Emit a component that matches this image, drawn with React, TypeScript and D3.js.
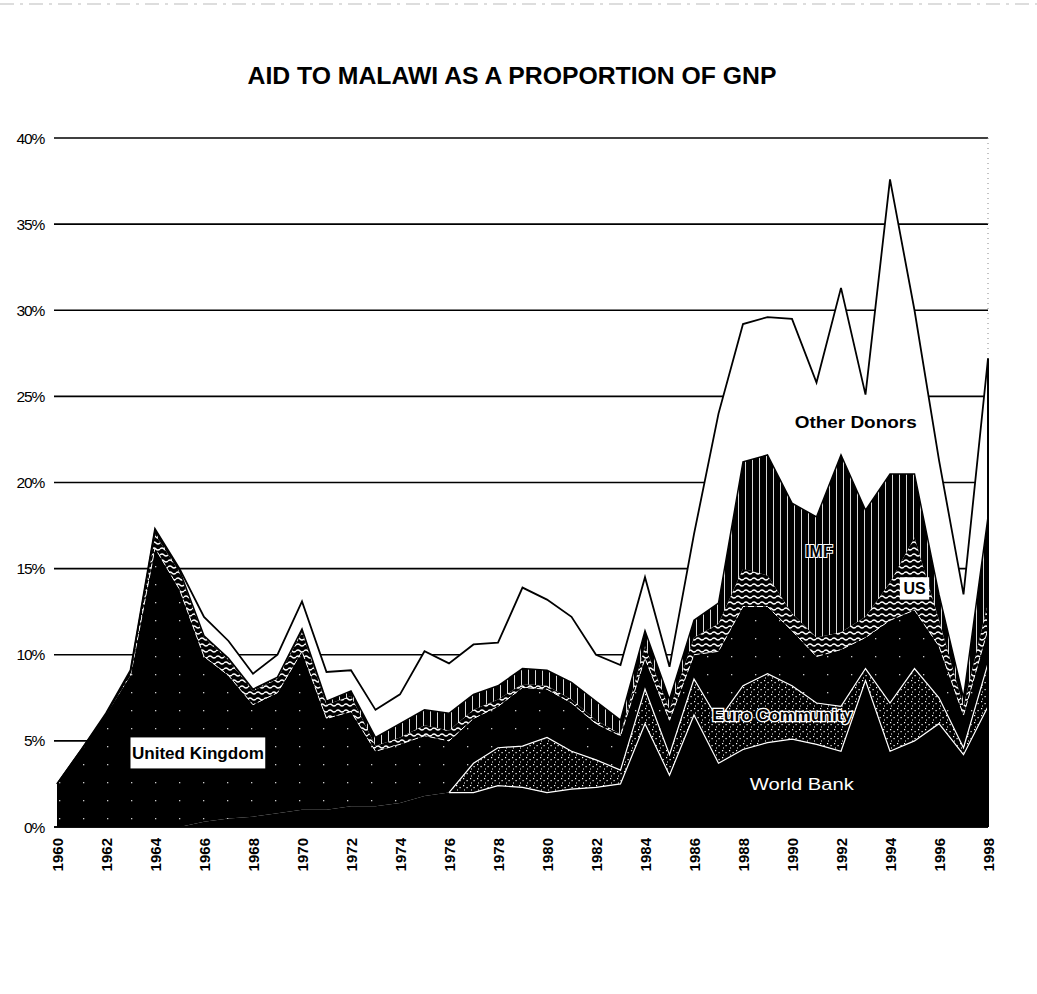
import React from "react";
import * as d3 from "d3";

// ---- data (percent of GNP) ----
const years = [1960,1961,1962,1963,1964,1965,1966,1967,1968,1969,1970,1971,1972,1973,1974,1975,1976,1977,1978,1979,1980,1981,1982,1983,1984,1985,1986,1987,1988,1989,1990,1991,1992,1993,1994,1995,1996,1997,1998];
const worldBank   = [0,0,0,0,0,0,0.3,0.5,0.6,0.8,1.0,1.0,1.2,1.2,1.4,1.8,2.0,2.0,2.4,2.3,2.0,2.2,2.3,2.5,6.0,3.0,6.5,3.7,4.5,4.9,5.1,4.8,4.4,8.5,4.4,5.0,6.0,4.2,7.0];
const euroCommunity = [0,0,0,0,0,0,0,0,0,0,0,0,0,0,0,0,0,1.7,2.2,2.4,3.2,2.2,1.6,0.8,2.0,1.2,2.1,2.5,3.7,4.0,3.1,2.4,2.6,0.7,2.8,4.2,1.5,0.4,2.5];
const unitedKingdom = [2.5,4.5,6.5,8.8,16.2,13.8,9.6,8.3,6.5,7.0,9.2,5.3,5.5,3.2,3.4,3.5,3.0,2.6,2.4,3.4,2.8,2.8,2.1,2.0,1.8,2.0,1.4,4.0,4.6,3.9,3.2,2.7,3.3,1.8,4.8,3.4,3.0,1.9,2.0];
const us          = [0,0,0,0.2,0.8,1.0,1.1,0.9,0.8,0.8,1.1,0.8,0.9,0.3,0.4,0.6,0.6,0.5,0.4,0.2,0.2,0.2,0.2,0.1,0.7,0.6,1.0,1.6,2.2,1.8,1.0,1.1,1.0,1.2,2.2,4.2,1.5,0.5,1.5];
const imf         = [0,0,0,0,0.2,0.1,0.1,0.1,0.1,0.1,0.2,0.2,0.3,0.5,0.8,0.9,1.0,0.9,0.8,0.9,0.9,1.0,1.1,0.8,0.9,0.6,1.0,1.2,6.2,7.0,6.4,7.0,10.3,6.2,6.3,3.7,1.5,0.5,5.0];
const otherDonors = [0,0,0.1,0.1,0.1,0.1,1.1,1.0,0.9,1.3,1.6,1.7,1.2,1.6,1.7,3.4,2.9,2.9,2.5,4.7,4.1,3.8,2.7,3.2,3.1,1.9,5.0,11.0,8.0,8.0,10.7,7.8,9.7,6.7,17.1,9.5,7.8,6.0,9.2];

const seriesKeys = ["World Bank", "Euro Community", "United Kingdom", "US", "IMF", "Other Donors"];
const yTicks = [0, 5, 10, 15, 20, 25, 30, 35, 40];
const xTickYears = [1960,1962,1964,1966,1968,1970,1972,1974,1976,1978,1980,1982,1984,1986,1988,1990,1992,1994,1996,1998];

const title = "AID TO MALAWI AS A PROPORTION OF GNP";

const W = 1037, H = 994;
const FONT = "'Liberation Sans', Arial, Helvetica, sans-serif";

export default function App() {
  const rows = years.map((yr, i) => ({
    year: yr,
    "World Bank": worldBank[i],
    "Euro Community": euroCommunity[i],
    "United Kingdom": unitedKingdom[i],
    "US": us[i],
    "IMF": imf[i],
    "Other Donors": otherDonors[i],
  }));

  const x = d3.scaleLinear().domain([1960, 1998]).range([57, 988]);
  const y = d3.scaleLinear().domain([0, 40]).range([827, 138]);

  const stacked = d3.stack<any>().keys(seriesKeys)(rows);
  const byKey: Record<string, any> = {};
  stacked.forEach((s) => (byKey[s.key] = s));

  const area = d3
    .area<any>()
    .x((d) => x(d.data.year))
    .y0((d) => y(d[0]))
    .y1((d) => y(d[1]));

  const topLine = d3
    .line<any>()
    .x((d) => x(d.data.year))
    .y((d) => y(d[1]));
  const ecTop = d3
    .line<any>()
    .defined((d) => d.data.year >= 1976)
    .x((d) => x(d.data.year))
    .y((d) => y(d[1]));
  const ecBot = d3
    .line<any>()
    .defined((d) => d.data.year >= 1976)
    .x((d) => x(d.data.year))
    .y((d) => y(d[0]));
  const ukTop = d3
    .line<any>()
    .defined((d) => d.data.year >= 1963)
    .x((d) => x(d.data.year))
    .y((d) => y(d[1]));

  const fills: Record<string, string> = {
    "World Bank": "#000",
    "Euro Community": "url(#ecPat)",
    "United Kingdom": "url(#ukPat)",
    "US": "url(#usPat)",
    "IMF": "url(#imfPat)",
    "Other Donors": "#fff",
  };

  return (
    <svg
      width={W}
      height={H}
      viewBox={`0 0 ${W} ${H}`}
      style={{ position: "absolute", left: 0, top: 0, background: "#fff", display: "block" }}
    >
      <defs>
        <pattern id="ukPat" width="24" height="18" patternUnits="userSpaceOnUse">
          <rect width="24" height="18" fill="#000" />
          <rect x="11" y="8" width="1.3" height="1.3" fill="#fff" opacity="0.8" />
        </pattern>
        <pattern id="ecPat" width="7" height="7" patternUnits="userSpaceOnUse">
          <rect width="7" height="7" fill="#000" />
          <rect x="1" y="1" width="1.2" height="1.2" fill="#fff" />
          <rect x="4.5" y="3" width="1.2" height="1.2" fill="#fff" />
          <rect x="2" y="5.5" width="1" height="1" fill="#fff" />
        </pattern>
        <pattern id="usPat" width="8" height="6" patternUnits="userSpaceOnUse">
          <rect width="8" height="6" fill="#000" />
          <path d="M0 3 Q2 1 4 3 T8 3" stroke="#fff" strokeWidth="1.4" fill="none" />
        </pattern>
        <pattern id="imfPat" width="7" height="10" patternUnits="userSpaceOnUse">
          <rect width="7" height="10" fill="#000" />
          <rect x="3" y="0" width="1" height="10" fill="#fff" opacity="0.85" />
        </pattern>
      </defs>

      {/* scan border artefacts */}
      <line x1={0} x2={W} y1={4} y2={4} stroke="#bbb" strokeWidth={1} strokeDasharray="14,6,3,6" />

      {/* title */}
      <text
        x={512}
        y={84}
        textAnchor="middle"
        fontFamily={FONT}
        fontWeight="bold"
        fontSize={24}
        textLength={529}
        lengthAdjust="spacingAndGlyphs"
        fill="#000"
      >
        {title}
      </text>

      {/* gridlines */}
      {yTicks.map((t) => (
        <line key={t} x1={54} x2={988} y1={y(t)} y2={y(t)} stroke="#000" strokeWidth={1.6} />
      ))}
      {/* right border dotted */}
      <line x1={988} x2={988} y1={y(40)} y2={y(0)} stroke="#888" strokeWidth={1} strokeDasharray="1,4" />

      {/* stacked areas */}
      {stacked.map((s) => (
        <path key={s.key} d={area(s) as string} fill={fills[s.key]} stroke="none" />
      ))}

      {/* outlines */}
      <path d={ecTop(byKey["Euro Community"]) as string} fill="none" stroke="#fff" strokeWidth={1.2} />
      <path d={ecBot(byKey["Euro Community"]) as string} fill="none" stroke="#fff" strokeWidth={1.2} />
      <path d={ukTop(byKey["United Kingdom"]) as string} fill="none" stroke="#fff" strokeWidth={1} strokeDasharray="6,3" />
      <path d={topLine(byKey["IMF"]) as string} fill="none" stroke="#000" strokeWidth={1.5} />
      <path d={topLine(byKey["Other Donors"]) as string} fill="none" stroke="#000" strokeWidth={1.8} />
      <line x1={x(1998)} x2={x(1998)} y1={y(byKey["Other Donors"][38][1])} y2={y(0)} stroke="#000" strokeWidth={2} />

      {/* axis baseline */}
      <line x1={54} x2={988} y1={y(0)} y2={y(0)} stroke="#000" strokeWidth={1.6} />

      {/* y tick labels */}
      {yTicks.map((t) => (
        <text
          key={t}
          x={44}
          y={y(t) + 5.5}
          textAnchor="end"
          fontFamily={FONT}
          fontSize={15.5}
          letterSpacing={-1.2}
          fill="#000"
        >
          {t + "%"}
        </text>
      ))}

      {/* x tick labels */}
      {xTickYears.map((yr) => (
        <text
          key={yr}
          transform={`translate(${x(yr) + 5.5},${838}) rotate(-90)`}
          textAnchor="end"
          fontFamily={FONT}
          fontWeight="bold"
          fontSize={15}
          fill="#000"
        >
          {yr}
        </text>
      ))}

      {/* series labels */}
      <rect x={x(1963)} y={y(5.2)} width={x(1968.5) - x(1963)} height={y(3.4) - y(5.2)} fill="#fff" />
      <text
        x={(x(1963) + x(1968.5)) / 2}
        y={y(4.3) + 6}
        textAnchor="middle"
        fontFamily={FONT}
        fontWeight="bold"
        fontSize={17}
        textLength={132}
        lengthAdjust="spacingAndGlyphs"
        fill="#000"
      >
        United Kingdom
      </text>

      <text
        x={x(1990.4)}
        y={y(2.5) + 6}
        textAnchor="middle"
        fontFamily={FONT}
        fontSize={16}
        textLength={104}
        lengthAdjust="spacingAndGlyphs"
        fill="#fff"
      >
        World Bank
      </text>

      <text
        x={x(1989.6)}
        y={y(6.5) + 6}
        textAnchor="middle"
        fontFamily={FONT}
        fontWeight="bold"
        fontSize={16}
        textLength={140}
        lengthAdjust="spacingAndGlyphs"
        fill="#000"
        stroke="#fff"
        strokeWidth={2.5}
        paintOrder="stroke"
      >
        Euro Community
      </text>

      <rect x={x(1994.4)} y={y(14.5)} width={x(1995.6) - x(1994.4)} height={y(13.2) - y(14.5)} fill="#fff" />
      <text
        x={x(1995)}
        y={y(13.85) + 6}
        textAnchor="middle"
        fontFamily={FONT}
        fontWeight="bold"
        fontSize={16}
        fill="#000"
      >
        US
      </text>

      <text
        x={x(1991.1)}
        y={y(16) + 6}
        textAnchor="middle"
        fontFamily={FONT}
        fontWeight="bold"
        fontSize={16}
        fill="#000"
        stroke="#fff"
        strokeWidth={2}
        paintOrder="stroke"
      >
        IMF
      </text>

      <text
        x={x(1992.6)}
        y={y(23.5) + 6}
        textAnchor="middle"
        fontFamily={FONT}
        fontWeight="bold"
        fontSize={17}
        textLength={122}
        lengthAdjust="spacingAndGlyphs"
        fill="#000"
      >
        Other Donors
      </text>
    </svg>
  );
}
